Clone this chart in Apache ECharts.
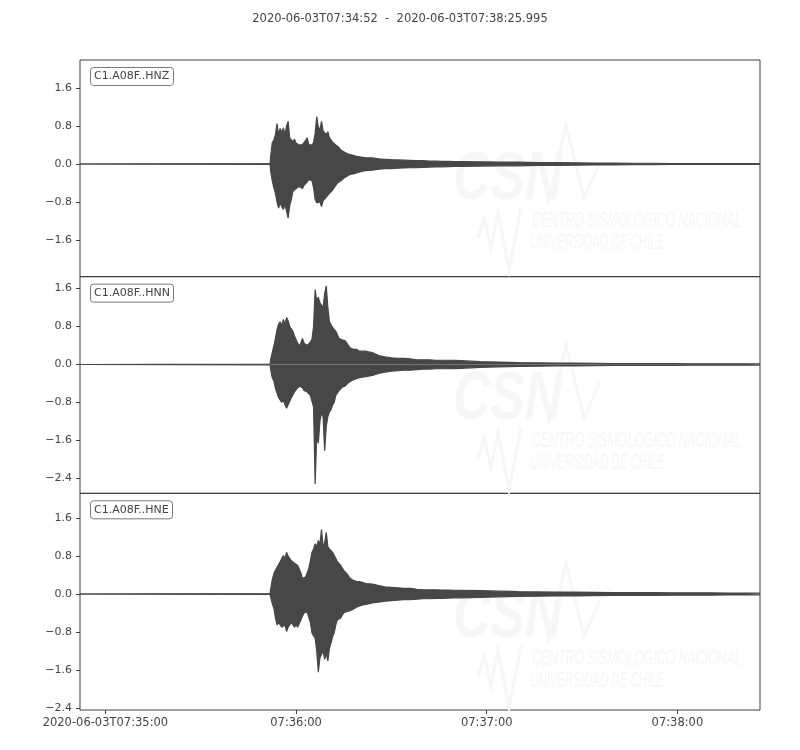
<!DOCTYPE html>
<html><head><meta charset="utf-8">
<script src="https://cdn.jsdelivr.net/npm/echarts@6/dist/echarts.min.js"></script>
<style>html,body{margin:0;padding:0;background:#fff}#c{width:800px;height:750px}</style>
</head><body><div id="c"></div>
<script>
// ---- data (time in seconds from 2020-06-03T07:34:52) ----
const titleText = '2020-06-03T07:34:52  -  2020-06-03T07:38:25.995';
const channels = ['C1.A08F..HNZ', 'C1.A08F..HNN', 'C1.A08F..HNE'];
const xRange = [0, 213.995];
const xTicks = [8, 68, 128, 188];
const xTickLabels = ['2020-06-03T07:35:00', '07:36:00', '07:37:00', '07:38:00'];
const yRanges = [[-2.378, 2.194], [-2.717, 1.852], [-2.447, 2.124]];
const yTicksZ = [-1.6, -0.8, 0, 0.8, 1.6];
const yTicksN = [-2.4, -1.6, -0.8, 0, 0.8, 1.6];
const yTicksE = [-2.4, -1.6, -0.8, 0, 0.8, 1.6];

const times = [0, 59.8,
  60, 60.5, 61, 61.5, 62, 62.5, 63, 63.5, 64, 64.5,
  65, 65.5, 66, 66.5, 67, 67.5, 68, 68.5, 69, 69.5,
  70, 70.5, 71, 71.5, 72, 72.5, 73, 73.5, 74, 74.5,
  75, 75.5, 76, 76.5, 77, 77.5, 78, 78.5, 79, 79.5,
  80, 80.5, 81, 81.5, 82, 82.5, 83, 83.5, 84, 84.5,
  85, 85.5, 86, 86.5, 87, 87.5, 88, 88.5, 89, 89.5,
  90,
  92, 94, 96, 98, 100, 102, 104, 106, 108, 110, 112, 114, 116, 118, 120,
  126, 132, 138, 144, 150, 156, 162, 168, 174, 180, 186, 192, 198, 204, 210,
  213.995];

const hnzMax = [0, 0.01,
  0.15, 0.45, 0.5, 0.62, 0.85, 0.62, 0.75, 0.66, 0.76, 0.62,
  0.8, 0.9, 0.55, 0.58, 0.47, 0.52, 0.44, 0.46, 0.4, 0.44,
  0.41, 0.45, 0.5, 0.55, 0.41, 0.43, 0.4, 0.45, 0.65, 1.0,
  0.78, 0.72, 0.9, 0.7, 0.72, 0.62, 0.68, 0.55, 0.58, 0.46,
  0.5, 0.4, 0.37, 0.35, 0.3, 0.32, 0.26, 0.28, 0.22, 0.23,
  0.2, 0.22, 0.18, 0.19, 0.16, 0.17, 0.15, 0.16, 0.14, 0.15,
  0.13,
  0.13, 0.11, 0.1, 0.09, 0.085, 0.08, 0.075, 0.07, 0.07, 0.06, 0.06, 0.055, 0.055, 0.05, 0.05,
  0.045, 0.04, 0.04, 0.03, 0.03, 0.025, 0.02, 0.02, 0.015, 0.015, 0.01, 0.01, 0.01, 0.01, 0.01,
  0.01];
const hnzMin = [0, -0.01,
  -0.15, -0.35, -0.5, -0.62, -0.8, -0.93, -0.82, -0.9, -0.96, -0.85,
  -1.0, -1.14, -0.88, -0.75, -0.58, -0.6, -0.52, -0.55, -0.47, -0.5,
  -0.52, -0.45, -0.42, -0.38, -0.33, -0.36, -0.35, -0.5, -0.75, -0.82,
  -0.86, -0.8, -0.9, -0.78, -0.75, -0.7, -0.72, -0.62, -0.65, -0.55,
  -0.58, -0.45, -0.4, -0.42, -0.36, -0.33, -0.3, -0.29, -0.26, -0.25,
  -0.22, -0.23, -0.21, -0.2, -0.19, -0.18, -0.17, -0.16, -0.15, -0.15,
  -0.14,
  -0.13, -0.11, -0.1, -0.1, -0.09, -0.085, -0.08, -0.075, -0.07, -0.065, -0.06, -0.06, -0.055, -0.05, -0.05,
  -0.045, -0.04, -0.04, -0.03, -0.03, -0.025, -0.02, -0.02, -0.015, -0.015, -0.01, -0.01, -0.01, -0.01, -0.01,
  -0.01];

const hnnMax = [0, 0.01,
  0.1, 0.25, 0.39, 0.55, 0.74, 0.85, 0.9, 0.82, 0.95, 0.85,
  0.99, 0.92, 0.8, 0.75, 0.7, 0.6, 0.56, 0.45, 0.39, 0.45,
  0.55, 0.45, 0.42, 0.4, 0.42, 0.47, 0.53, 0.8, 1.58, 1.35,
  1.42, 1.3, 1.3, 1.2, 1.5, 1.66, 1.2, 0.9, 0.88, 0.78,
  0.74, 0.7, 0.63, 0.55, 0.53, 0.52, 0.49, 0.5, 0.46, 0.4,
  0.35, 0.33, 0.32, 0.34, 0.32, 0.3, 0.28, 0.3, 0.28, 0.27,
  0.28,
  0.25, 0.19, 0.16, 0.14, 0.13, 0.13, 0.12, 0.1, 0.1, 0.1, 0.09, 0.09, 0.09, 0.085, 0.08,
  0.06, 0.05, 0.04, 0.035, 0.03, 0.03, 0.025, 0.02, 0.02, 0.02, 0.02, 0.015, 0.015, 0.015, 0.015,
  0.015];
const hnnMin = [0, -0.01,
  -0.1, -0.28, -0.35, -0.5, -0.6, -0.7, -0.67, -0.8, -0.74, -0.85,
  -0.92, -0.85, -0.81, -0.7, -0.67, -0.58, -0.53, -0.5, -0.46, -0.5,
  -0.49, -0.55, -0.53, -0.58, -0.6, -0.65, -0.67, -0.9, -2.52, -1.5,
  -1.66, -1.2, -1.02, -1.1, -1.82, -1.3, -1.1, -1.0, -0.95, -0.85,
  -0.8, -0.65, -0.6, -0.55, -0.53, -0.48, -0.46, -0.45, -0.42, -0.38,
  -0.35, -0.34, -0.32, -0.31, -0.3, -0.29, -0.28, -0.27, -0.26, -0.26,
  -0.25,
  -0.23, -0.19, -0.16, -0.14, -0.13, -0.12, -0.12, -0.11, -0.1, -0.1, -0.09, -0.09, -0.09, -0.085, -0.08,
  -0.06, -0.05, -0.04, -0.035, -0.03, -0.03, -0.025, -0.02, -0.02, -0.02, -0.02, -0.015, -0.015, -0.015, -0.015,
  -0.015];

const hneMax = [0, 0.01,
  0.1, 0.3, 0.43, 0.5, 0.54, 0.62, 0.68, 0.75, 0.81, 0.75,
  0.88, 0.8, 0.78, 0.7, 0.71, 0.65, 0.64, 0.6, 0.57, 0.45,
  0.33, 0.35, 0.36, 0.45, 0.54, 0.7, 0.88, 0.95, 1.06, 1.0,
  1.13, 1.05, 1.36, 1.0, 1.09, 1.3, 1.0, 0.95, 0.92, 0.88,
  0.85, 0.75, 0.68, 0.66, 0.61, 0.55, 0.5, 0.46, 0.43, 0.38,
  0.33, 0.31, 0.29, 0.28, 0.27, 0.27, 0.26, 0.25, 0.24, 0.23,
  0.22,
  0.21, 0.18, 0.15, 0.14, 0.13, 0.12, 0.12, 0.1, 0.09, 0.09, 0.09, 0.085, 0.085, 0.08, 0.08,
  0.07, 0.06, 0.05, 0.045, 0.04, 0.04, 0.035, 0.03, 0.03, 0.03, 0.025, 0.025, 0.025, 0.02, 0.02,
  0.02];
const hneMin = [0, -0.01,
  -0.05, -0.2, -0.3, -0.5, -0.65, -0.6, -0.58, -0.7, -0.68, -0.65,
  -0.79, -0.7, -0.65, -0.6, -0.61, -0.7, -0.65, -0.7, -0.68, -0.55,
  -0.47, -0.4, -0.37, -0.38, -0.4, -0.6, -0.82, -0.88, -0.93, -1.2,
  -1.65, -1.35, -1.31, -1.2, -1.38, -1.25, -1.41, -1.15, -1.03, -0.9,
  -0.82, -0.65, -0.54, -0.55, -0.51, -0.45, -0.4, -0.39, -0.37, -0.36,
  -0.35, -0.33, -0.32, -0.3, -0.28, -0.27, -0.25, -0.24, -0.23, -0.22,
  -0.22,
  -0.19, -0.17, -0.15, -0.14, -0.13, -0.12, -0.12, -0.11, -0.1, -0.1, -0.09, -0.09, -0.085, -0.08, -0.08,
  -0.07, -0.06, -0.05, -0.045, -0.04, -0.04, -0.035, -0.03, -0.03, -0.03, -0.025, -0.025, -0.025, -0.02, -0.02,
  -0.02];

// ---- chart ----
const traceColor = '#474747';
const axisColor = '#3f3f3f';
const textColor = '#444444';
const font = '"DejaVu Sans", sans-serif';
const gridTop = 60, gridH = 216.67, gridLeft = 80, gridRight = 40;
const traces = [[hnzMax, hnzMin], [hnnMax, hnnMin], [hneMax, hneMin]];
const yTicks = [yTicksZ, yTicksN, yTicksE];

const fmtY = v => (v < 0 ? '\u2212' : '') + Math.abs(v).toFixed(1);

const grids = [], xAxes = [], yAxes = [], series = [];
const titles = [{
  text: titleText, left: 'center', top: 13, padding: 0,
  textStyle: { fontFamily: font, fontSize: 11.5, fontWeight: 'normal', color: textColor }
}];
traces.forEach((tr, i) => {
  const top = gridTop + i * gridH;
  grids.push({ left: gridLeft, right: gridRight, top: top, height: gridH, show: true,
    borderColor: axisColor, borderWidth: 1, backgroundColor: 'transparent' });
  const last = i === traces.length - 1;
  xAxes.push({
    type: 'value', gridIndex: i, min: xRange[0], max: xRange[1],
    axisLine: { show: false, onZero: false }, splitLine: { show: false },
    axisTick: { show: last, customValues: xTicks, length: 4, lineStyle: { color: axisColor } },
    axisLabel: { show: last, customValues: xTicks, margin: 7,
      fontFamily: font, fontSize: 11.5, color: textColor,
      formatter: v => xTickLabels[xTicks.indexOf(v)] }
  });
  yAxes.push({
    type: 'value', gridIndex: i, min: yRanges[i][0], max: yRanges[i][1],
    axisLine: { show: false, onZero: false }, splitLine: { show: false },
    axisTick: { show: true, customValues: yTicks[i], length: 4, lineStyle: { color: axisColor } },
    axisLabel: { customValues: yTicks[i], margin: 8, fontFamily: font, fontSize: 11, color: textColor,
      formatter: fmtY }
  });
  titles.push({
    text: channels[i], left: 90, top: top + 7, padding: [3, 4, 3, 4],
    borderWidth: 1, borderColor: '#7a7a7a', borderRadius: 3, backgroundColor: '#ffffff',
    textStyle: { fontFamily: font, fontSize: 11, fontWeight: 'normal', color: textColor, lineHeight: 13 }
  });
  tr.forEach(arr => series.push({
    type: 'line', xAxisIndex: i, yAxisIndex: i, z: 3, silent: true,
    data: times.map((t, k) => [t, arr[k]]),
    symbol: 'none', showSymbol: false,
    lineStyle: { color: traceColor, width: 1.2 },
    areaStyle: { color: traceColor, opacity: 1, origin: 'auto' }
  }));
});

// very faint CSN watermark (decoration)
const wm = '#f6f6f6';
const graphics = [];
[0, 220, 438].forEach(dy => {
  graphics.push({ type: 'polyline', z: 0, silent: true,
    shape: { points: [[478, 238 + dy], [484, 218 + dy], [491, 248 + dy], [498, 212 + dy], [509, 270 + dy], [521, 208 + dy]] },
    style: { stroke: wm, lineWidth: 3, fill: null } });
  graphics.push({ type: 'polyline', z: 0, silent: true,
    shape: { points: [[548, 205 + dy], [566, 125 + dy], [584, 198 + dy], [600, 162 + dy]] },
    style: { stroke: wm, lineWidth: 3, fill: null } });
  graphics.push({ type: 'text', z: 0, silent: true, x: 453, y: 146 + dy, scaleX: 0.76,
    style: { text: 'CSN', fill: wm, verticalAlign: 'top', align: 'left',
      font: 'italic bold 68px "Liberation Sans", sans-serif' } });
  graphics.push({ type: 'text', z: 0, silent: true, x: 532, y: 210 + dy, scaleX: 0.56,
    style: { text: 'CENTRO SISMOLÓGICO NACIONAL', fill: wm, verticalAlign: 'top', align: 'left',
      font: 'italic 22px "Liberation Sans", sans-serif' } });
  graphics.push({ type: 'text', z: 0, silent: true, x: 530, y: 232 + dy, scaleX: 0.52,
    style: { text: 'UNIVERSIDAD DE CHILE', fill: wm, verticalAlign: 'top', align: 'left',
      font: 'italic 22px "Liberation Sans", sans-serif' } });
});

const chart = echarts.init(document.getElementById('c'), null, { renderer: 'canvas' });
chart.setOption({
  animation: false,
  backgroundColor: '#ffffff',
  title: titles,
  grid: grids,
  xAxis: xAxes,
  yAxis: yAxes,
  series: series,
  graphic: graphics
});
</script>
</body></html>
